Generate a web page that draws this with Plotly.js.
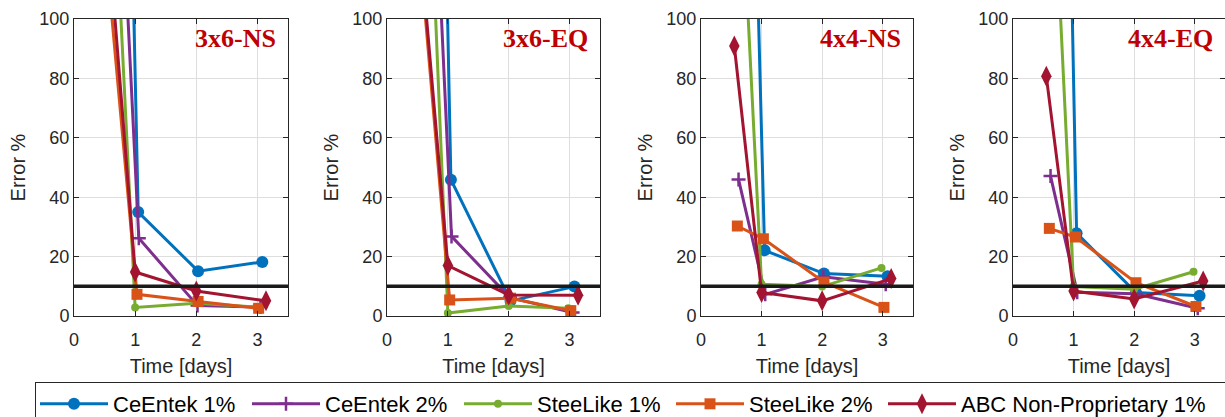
<!DOCTYPE html>
<html>
<head>
<meta charset="utf-8">
<script src="https://cdn.plot.ly/plotly-3.0.1.min.js"></script>
<style>html,body{margin:0;padding:0;background:#fff;}#chart{width:1225px;height:417px;}</style>
</head>
<body>
<div id="chart"></div>
<script>
// ---- data ----
const panelTitles = ['3x6-NS', '3x6-EQ', '4x4-NS', '4x4-EQ'];
const seriesNames = ['CeEntek 1%', 'CeEntek 2%', 'SteeLike 1%', 'SteeLike 2%', 'ABC Non-Proprietary 1%'];
const xTickVals = [0, 1, 2, 3];
const yTickVals = [0, 20, 40, 60, 80, 100];
const threshold = 10;

// time (days) for each series
const tCeEntek1 = [0.62, 1.05, 2.03, 3.08];
const tCeEntek2 = [0.62, 1.06, 2.02, 3.05];
const tSteeLike1 = [0.60, 1.00, 2.00, 2.98];
const tSteeLike2 = [0.60, 1.03, 2.03, 3.02];
const tABC = [0.55, 1.00, 2.00, 3.14];

// error % per panel (rows: 3x6-NS, 3x6-EQ, 4x4-NS, 4x4-EQ)
const eCeEntek1 = [[434, 35.0, 15.1, 18.2], [478, 45.9, 5.1, 9.9], [357, 22.1, 14.3, 13.4], [471, 27.9, 7.9, 6.8]];
const eCeEntek2 = [[210, 26.2, 3.5, 3.0], [223, 26.8, 6.2, 1.2], [46.0, 7.3, 13.2, 10.7], [47.1, 8.0, 7.5, 2.6]];
const eSteeLike1 = [[170, 2.9, 4.3, 3.0], [199, 1.0, 3.4, 2.6], [173, 10.7, 9.9, 16.2], [179, 9.9, 9.0, 14.9]];
const eSteeLike2 = [[105, 7.3, 4.9, 2.6], [108, 5.4, 6.0, 1.8], [30.3, 26.0, 11.4, 2.9], [29.5, 26.6, 11.2, 3.2]];
const eABC = [[131, 14.8, 8.4, 5.1], [124, 17.0, 7.1, 7.0], [90.9, 7.9, 5.1, 12.6], [80.7, 8.4, 5.7, 11.8]];

// ---- styles ----
const seriesTimes = [tCeEntek1, tCeEntek2, tSteeLike1, tSteeLike2, tABC];
const seriesErr = [eCeEntek1, eCeEntek2, eSteeLike1, eSteeLike2, eABC];
const colors = ['#0072BD', '#7E2F8E', '#77AC30', '#D95319', '#A2142F'];
const markers = [
  {symbol: 'circle', size: 12},
  {symbol: 'cross-thin', size: 10, line: {width: 2.5}},
  {symbol: 'circle', size: 8},
  {symbol: 'square', size: 11},
  {symbol: 'diamond-tall', size: 15}
];
const legendWidths = [129, 129, 129, 129, 259];

const W = 1225, H = 417;
const xDomPx = [[74, 288], [387, 600], [701, 913], [1013, 1225]];
const yDom = [(H - 316) / H, (H - 19) / H];
const fontFam = 'Liberation Sans, Arial, sans-serif';
const axCol = '#262626';

const traces = [];
const layout = {
  width: W, height: H,
  margin: {l: 0, r: 0, t: 0, b: 0, autoexpand: false},
  paper_bgcolor: '#fff', plot_bgcolor: '#fff',
  font: {family: fontFam, color: axCol},
  showlegend: true,
  legend: {
    orientation: 'h', x: 35 / W, y: (H - 382) / H, xanchor: 'left', yanchor: 'top',
    bordercolor: axCol, borderwidth: 1, bgcolor: '#fff',
    font: {size: 22, family: fontFam, color: '#000'},
    itemwidth: 68, tracegroupgap: 0
  },
  shapes: [], annotations: []
};

panelTitles.forEach((title, p) => {
  const xa = p === 0 ? 'x' : 'x' + (p + 1);
  const ya = p === 0 ? 'y' : 'y' + (p + 1);
  const xk = p === 0 ? 'xaxis' : 'xaxis' + (p + 1);
  const yk = p === 0 ? 'yaxis' : 'yaxis' + (p + 1);
  seriesNames.forEach((name, s) => {
    traces.push({
      type: 'scatter', mode: 'lines+markers',
      x: seriesTimes[s], y: seriesErr[s][p],
      xaxis: xa, yaxis: ya,
      name: name, legendgroup: name, showlegend: p === 0,
      legendwidth: legendWidths[s],
      line: {color: colors[s], width: 3},
      marker: Object.assign({color: colors[s]}, markers[s],
        markers[s].line ? {line: {width: markers[s].line.width, color: colors[s]}} : {}),
      cliponaxis: true
    });
  });
  layout[xk] = {
    domain: [xDomPx[p][0] / W, xDomPx[p][1] / W], anchor: ya,
    range: [0, 3.5], tickvals: xTickVals, ticktext: xTickVals.map(String),
    showgrid: true, gridcolor: '#dedede', gridwidth: 1, zeroline: false,
    showline: true, linecolor: axCol, linewidth: 1, mirror: 'ticks',
    ticks: 'inside', ticklen: 5, tickcolor: axCol, ticklabelstandoff: 7,
    tickfont: {size: 18, family: fontFam, color: axCol},
    title: {text: 'Time [days]', font: {size: 20, family: fontFam, color: axCol}, standoff: 10}
  };
  layout[yk] = {
    domain: yDom, anchor: xa,
    range: [0, 100], tickvals: yTickVals, ticktext: yTickVals.map(String),
    showgrid: true, gridcolor: '#dedede', gridwidth: 1, zeroline: false,
    showline: true, linecolor: axCol, linewidth: 1, mirror: 'ticks',
    ticks: 'inside', ticklen: 5, tickcolor: axCol,
    tickfont: {size: 18, family: fontFam, color: axCol},
    title: {text: 'Error %', font: {size: 20, family: fontFam, color: axCol}, standoff: 8}
  };
  layout.shapes.push({
    type: 'line', xref: xa + ' domain', yref: ya, x0: 0, x1: 1, y0: threshold, y1: threshold,
    line: {color: '#1a1a1a', width: 3.5}, layer: 'above'
  });
  layout.annotations.push({
    xref: xa + ' domain', yref: ya + ' domain', x: 0.953, y: 0.99,
    xanchor: 'right', yanchor: 'top', showarrow: false,
    text: '<b>' + title + '</b>',
    font: {family: 'Liberation Serif, Times New Roman, serif', size: 26, color: '#C00000'}
  });
});

Plotly.newPlot('chart', traces, layout, {staticPlot: true, displayModeBar: false});
</script>
</body>
</html>
